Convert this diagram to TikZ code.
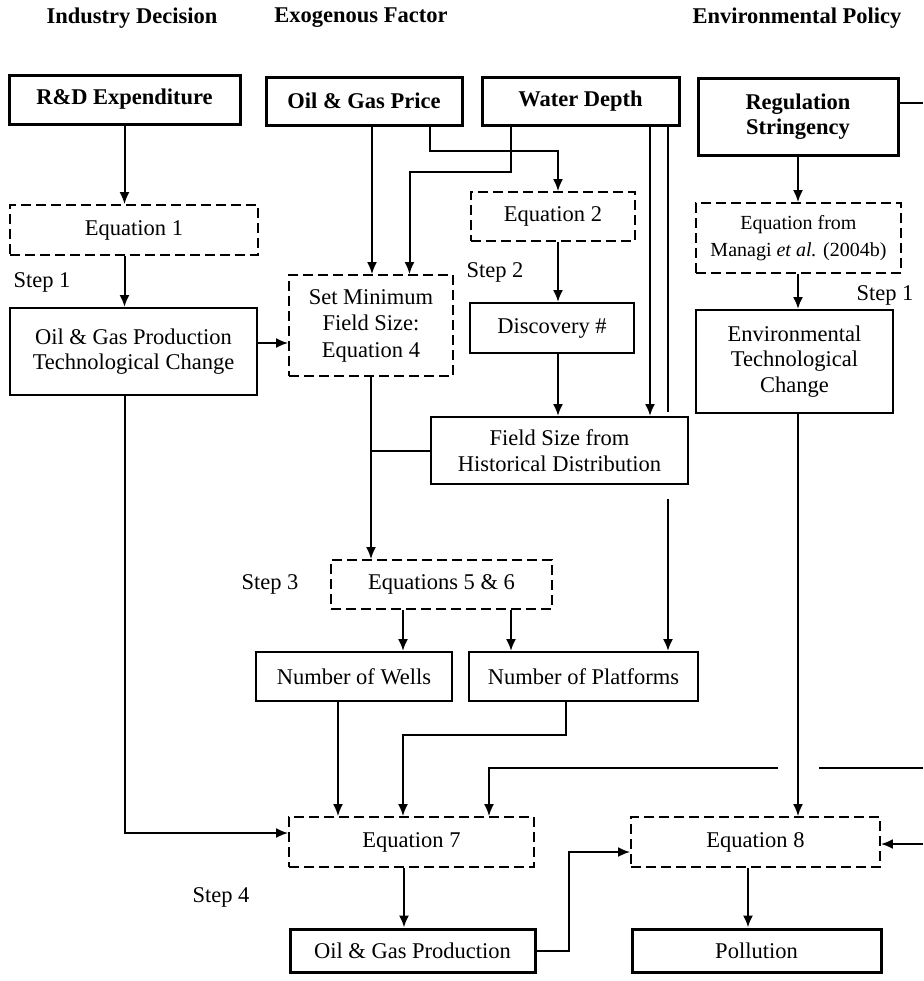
\documentclass[tikz,border=0pt]{standalone}
\usepackage{fontspec}
\setmainfont{Liberation Serif}
\usetikzlibrary{arrows.meta}
\tikzset{>={Latex[length=6pt,width=5pt]}}

\begin{document}
\begin{tikzpicture}[x=0.5pt,y=-0.5pt,line width=1pt,
  every node/.style={font=\fontsize{11.25}{12.75}\selectfont, align=center, inner sep=0pt},
  plain/.style={draw, rectangle, line width=1pt},
  heavy/.style={draw, rectangle, line width=1.5pt},
  eqn/.style={draw, rectangle, dash pattern=on 5pt off 2.5pt, line width=0.9pt},
  head/.style={font=\fontsize{11.25}{12.75}\selectfont\bfseries}]
\useasboundingbox (0,0) rectangle (923,981);
% column headers
\node[head] (hind) at (132,18) {Industry Decision};
\node[head] (hexo) at (361,18) {Exogenous Factor};
\node[head] (henv) at (797,18) {Environmental Policy};
% top row
\node[heavy,head,minimum width=115.5pt,minimum height=24.5pt] (rd) at (124.5,99.5) {R\&D Expenditure};
\node[heavy,head,minimum width=98pt,minimum height=24pt] (price) at (364,101) {Oil \& Gas Price};
\node[heavy,head,minimum width=98.5pt,minimum height=24pt] (depth) at (580.5,101) {Water Depth};
\node[heavy,head,minimum width=100pt,minimum height=38.5pt] (reg) at (798,116.5) {Regulation\\Stringency};
% equations and intermediate boxes
\node[eqn,minimum width=124pt,minimum height=25pt] (eqone) at (134,230) {Equation 1};
\node[eqn,minimum width=82pt,minimum height=24.5pt] (eqtwo) at (553,216.5) {Equation 2};
\node[eqn,minimum width=102.5pt,minimum height=35pt,font=\fontsize{10}{13.5}\selectfont] (managi) at (798.5,238) {Equation from\\Managi \textit{et al.} (2004b)};
\node[plain,minimum width=123.5pt,minimum height=43.5pt] (techoil) at (133.5,351.5) {Oil \& Gas Production\\Technological Change};
\node[eqn,minimum width=82pt,minimum height=50.5pt,font=\fontsize{11.25}{13.25}\selectfont] (minsize) at (371,325.5) {Set Minimum\\Field Size:\\Equation 4};
\node[plain,minimum width=82pt,minimum height=25pt] (discovery) at (552,328) {Discovery \#};
\node[plain,minimum width=98.5pt,minimum height=51.5pt] (techenv) at (794.5,361.5) {Environmental\\Technological\\Change};
\node[plain,minimum width=128.5pt,minimum height=33.5pt] (fieldsize) at (559.5,450.5) {Field Size from\\Historical Distribution};
\node[eqn,minimum width=110.5pt,minimum height=24.5pt] (eqfive) at (441.5,584.5) {Equations 5 \& 6};
\node[plain,minimum width=98pt,minimum height=24.5pt] (wells) at (354,676.5) {Number of Wells};
\node[plain,minimum width=114.5pt,minimum height=24.5pt] (platforms) at (583.5,676.5) {Number of Platforms};
\node[eqn,minimum width=122.5pt,minimum height=25pt] (eqseven) at (411.5,842) {Equation 7};
\node[eqn,minimum width=124.5pt,minimum height=25pt] (eqeight) at (755.5,842) {Equation 8};
\node[heavy,minimum width=122.5pt,minimum height=21.5pt] (production) at (412.5,950.5) {Oil \& Gas Production};
\node[heavy,minimum width=124.5pt,minimum height=21.5pt] (pollution) at (756.5,950.5) {Pollution};
% step labels
\node (sone) at (42,282) {Step 1};
\node (stwo) at (495,272) {Step 2};
\node (sthree) at (270,584) {Step 3};
\node (sfour) at (221,897) {Step 4};
\node (soneenv) at (885,295) {Step 1};
% helper points
\coordinate (pa) at ([xshift=4pt]price.south);
\coordinate (pb) at ([xshift=33pt]price.south);
\coordinate (da) at ([xshift=-34.75pt]depth.south);
\coordinate (db) at ([xshift=34.75pt]depth.south);
\coordinate (dc) at ([xshift=43.75pt]depth.south);
\coordinate (dd) at (dc |- fieldsize.north);
\coordinate (de) at (dc |- fieldsize.south);
\coordinate (ra) at ([yshift=6.75pt]reg.east);
\coordinate (ta) at ([yshift=4.25pt]techoil.east);
\coordinate (etop) at (923,103);
\coordinate (emid) at (923,768);
\coordinate (gapr) at (819,768);
\coordinate (gapl) at (778,768);
\coordinate (elow) at (923,844);
% industry column
\draw[->] (rd.south) -- (rd.south |- eqone.north);
\draw[->] (rd.south |- eqone.south) -- (rd.south |- techoil.north);
\draw[->] (ta) -- (ta -| minsize.west);
\draw[->] (rd.south |- techoil.south) |- ([yshift=4.5pt]eqseven.west);
% exogenous column
\draw[->] (pa) -- (pa |- minsize.north);
\draw[->] (da) -- ++(0,45) -| ([xshift=19.25pt]minsize.north);
\draw[->] (pb) -- ++(0,24) -| ([xshift=2.5pt]eqtwo.north);
\draw[->] ([xshift=2.5pt]eqtwo.south) -- ([xshift=3pt]discovery.north);
\draw[->] ([xshift=3pt]discovery.south) -- ([xshift=-0.75pt]fieldsize.north);
\draw[->] (db) -- (db |- fieldsize.north);
\draw (dc) -- ([yshift=2pt]dd);
\draw[->] ([yshift=-7pt]de) -- (dc |- platforms.north);
\draw[->] (minsize.south) -- (minsize.south |- eqfive.north);
\draw (fieldsize.west) -- (fieldsize.west -| minsize.south);
\draw[->] ([xshift=-19.25pt]eqfive.south) -- ([xshift=24.5pt]wells.north);
\draw[->] ([xshift=34.75pt]eqfive.south) -- ([xshift=-36.25pt]platforms.north);
\draw[->] ([xshift=-8pt]wells.south) -- ([xshift=-36.75pt]eqseven.north);
\draw[->] ([xshift=-8.75pt]platforms.south) -- ++(0,33) -| ([xshift=-4.25pt]eqseven.north);
\draw[->] ([xshift=-3.75pt]eqseven.south) -- ([xshift=-4.25pt]production.north);
\draw[->] (production.east) -- ++(32,0) |- ([yshift=-5pt]eqeight.west);
% policy column
\draw (ra) -- (etop);
\draw[->] (reg.south) -- (reg.south |- managi.north);
\draw[->] (reg.south |- managi.south) -- (reg.south |- techenv.north);
\draw[->] (reg.south |- techenv.south) -- (reg.south |- eqeight.north);
\draw (emid) -- (gapr);
\draw[->] (gapl) -| ([xshift=38.75pt]eqseven.north);
\draw[->] (elow) -- (elow -| eqeight.east);
\draw[->] ([xshift=-3.75pt]eqeight.south) -- ([xshift=-4.25pt]pollution.north);
\end{tikzpicture}
\end{document}
